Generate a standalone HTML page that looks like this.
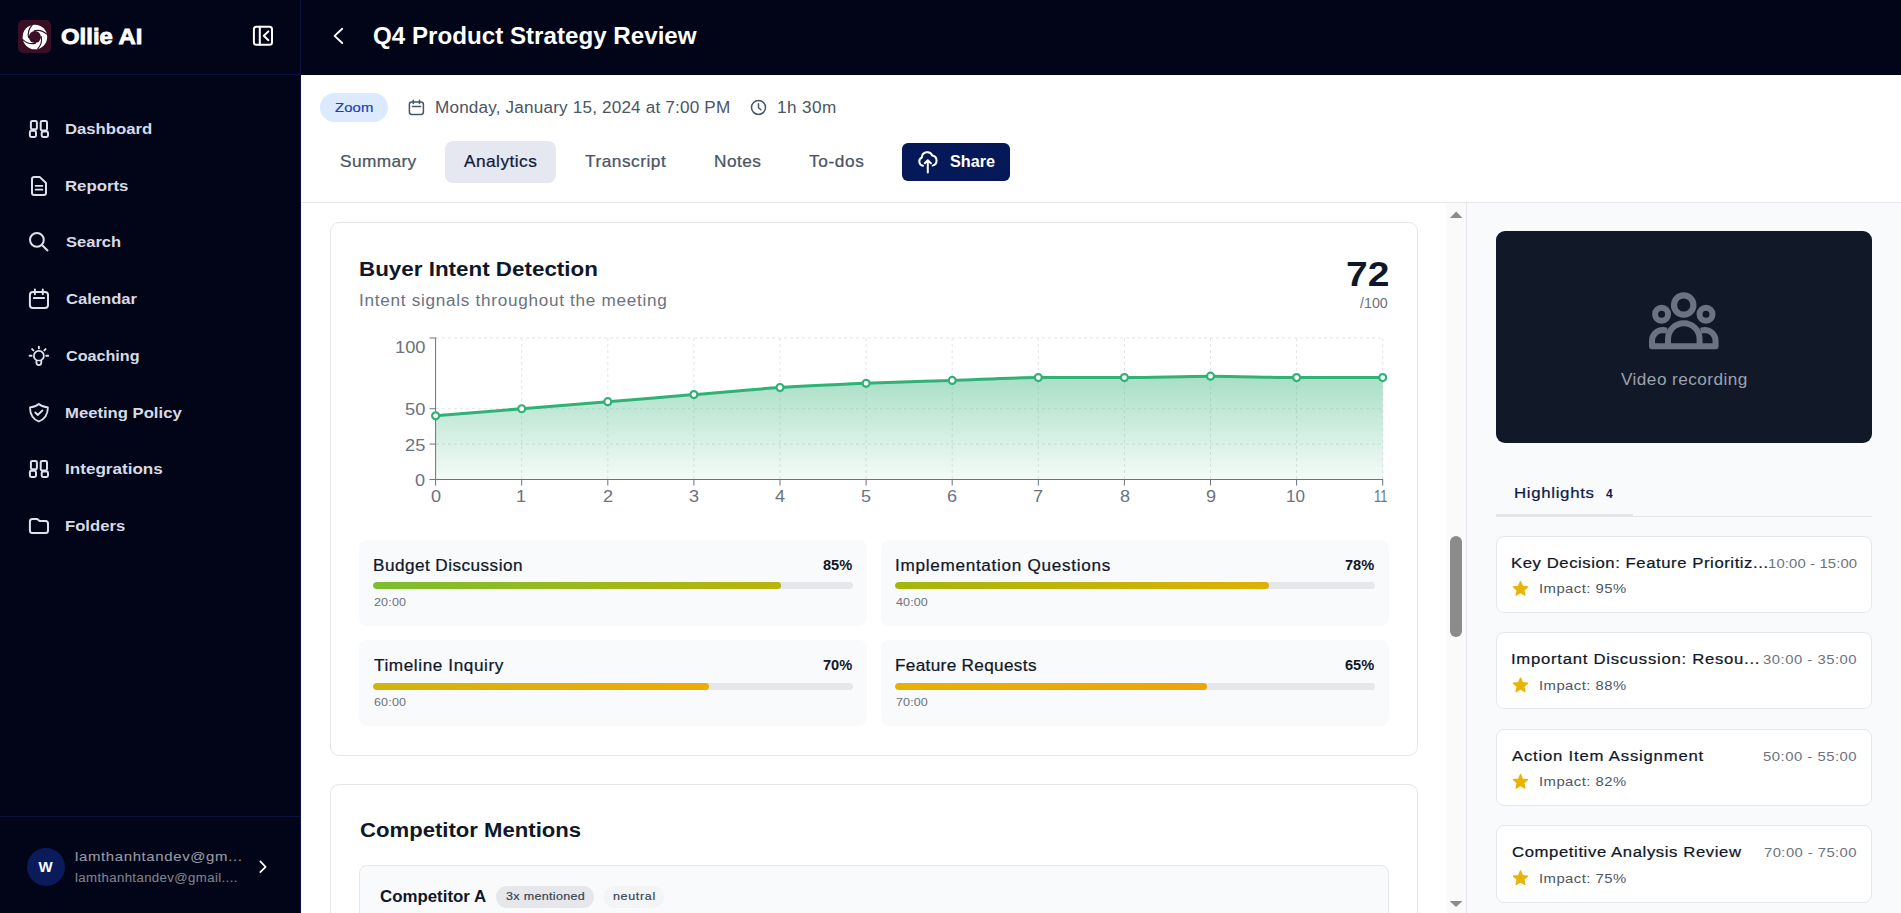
<!DOCTYPE html>
<html lang="en">
<head>
<meta charset="utf-8">
<title>Q4 Product Strategy Review - Ollie AI</title>
<style>
*{box-sizing:border-box;margin:0;padding:0}
html,body{width:1901px;height:913px;overflow:hidden;background:#fff}
body{font-family:"Liberation Sans","DejaVu Sans",sans-serif;color:#0f172a;position:relative}
.t{position:absolute;white-space:nowrap;line-height:1;transform-origin:0 0;font-style:normal;margin:0}
.b{position:absolute}
svg{position:absolute;left:0;top:0;overflow:visible;display:block}
#sidebar{left:0;top:0;width:301px;height:913px;background:#020518;border-right:1px solid #08143f}
#sb-head{left:0;top:0;width:300px;height:75px;border-bottom:1px solid #08143f}
#sb-foot{left:0;top:816px;width:300px;height:97px;border-top:1px solid #08143f}
#logo{left:18px;top:20px;width:33px;height:33px;border-radius:5px;background:#3a0f26}
#avatar{left:27px;top:847.5px;width:38px;height:38px;border-radius:50%;background:#0a1b5c}
#topbar{left:301px;top:0;width:1600px;height:75px;background:#020518}
#tabsline{left:301px;top:202px;width:1600px;height:1px;background:#e5e7eb}
#zoomBadge{left:320px;top:93px;width:68px;height:29px;border-radius:15px;background:#dbeafe}
#tabActive{left:445px;top:141px;width:111px;height:42px;border-radius:8px;background:#e6e8f1}
#shareBtn{left:902px;top:143px;width:108px;height:38px;border-radius:6px;background:#051858}
.card{border:1px solid #e5e7eb;border-radius:9px;background:#fff}
#card1{left:330px;top:222px;width:1088px;height:534px}
#card2{left:330px;top:784px;width:1088px;height:160px}
.ic{background:#f9fafb;border-radius:8px;height:85.6px;width:508px}
.bar{height:7px;border-radius:4px;background:#e5e7eb;width:480px;overflow:hidden}
.bar i{display:block;height:100%;border-radius:4px}
#comp{left:359px;top:865px;width:1030px;height:80px;border:1px solid #e5e7eb;border-radius:8px;background:#f9fafb}
#badge1{left:496px;top:886px;width:98px;height:22px;border-radius:11px;background:#e5e7eb}
#badge2{left:604px;top:886px;width:60px;height:22px;border-radius:11px;background:#f3f4f6}
#sbtrack{left:1446px;top:203px;width:20px;height:710px;background:#fafafa}
#sbthumb{left:1450px;top:536px;width:12px;height:101px;border-radius:6px;background:#8b8b8b}
#rpanel{left:1466px;top:203px;width:435px;height:710px;background:#f9fafb;border-left:1px solid #e5e7eb}
#video{left:1496px;top:231px;width:376px;height:211.5px;border-radius:9px;background:#111827}
#hlTabThick{left:1496px;top:514px;width:137px;height:3px;background:#e3e5e9}
#hlTabLine{left:1496px;top:516px;width:376px;height:1px;background:#e5e7eb}
.hl{left:1496px;width:376px;height:77px;border:1px solid #e5e7eb;border-radius:8px;background:#fff}
</style>
</head>
<body>

<!-- ================= SIDEBAR ================= -->
<aside class="b" id="sidebar">
  <div class="b" id="sb-head"></div>
  <div class="b" id="logo"></div>
  <svg width="301" height="913" viewBox="0 0 301 913" fill="none" stroke="#dfe2ea" stroke-width="2" stroke-linecap="round" stroke-linejoin="round">
    <!-- logo swirl -->
    <g transform="translate(34.9 37)" stroke="none">
      <circle r="12.3" fill="#fff"/>
      <circle r="6" fill="#3a0f26"/>
      <g fill="none" stroke="#3a0f26" stroke-width="1.2" stroke-linecap="butt">
        <path d="M12.2,-2.6 Q6,-8.2 -1,-6.1"/>
        <path d="M12.2,-2.6 Q6,-8.2 -1,-6.1" transform="rotate(90)"/>
        <path d="M12.2,-2.6 Q6,-8.2 -1,-6.1" transform="rotate(180)"/>
        <path d="M12.2,-2.6 Q6,-8.2 -1,-6.1" transform="rotate(270)"/>
      </g>
    </g>
    <!-- collapse -->
    <g stroke="#fff">
      <rect x="253.9" y="26.8" width="18.1" height="18" rx="2.5"/>
      <path d="M259.8,26.8 V44.8"/>
      <path d="M268.4,31.4 L263.8,35.8 L268.4,40.2"/>
    </g>
    <!-- dashboard -->
    <g id="ic-dash">
      <rect x="30.9" y="120.9" width="6" height="8.4" rx="1.4"/>
      <rect x="29.9" y="130.8" width="6.1" height="6.2" rx="1.4"/>
      <rect x="40.7" y="120.9" width="6.3" height="9.6" rx="1.4"/>
      <rect x="41.7" y="131.6" width="6.3" height="5.4" rx="1.4"/>
    </g>
    <!-- reports -->
    <path d="M34.2,176.9 H39.6 L46,183 V192.8 A2.2,2.2 0 0 1 43.8,195 H34.2 A2.2,2.2 0 0 1 32,192.8 V179.1 A2.2,2.2 0 0 1 34.2,176.9 Z"/>
    <path d="M35.6,185.8 H42.4 M35.6,189.7 H42.4" stroke-width="1.8"/>
    <!-- search -->
    <circle cx="36.9" cy="239.8" r="6.9"/>
    <path d="M42.2,245.2 L48,251" stroke-linecap="butt"/>
    <!-- calendar -->
    <g id="ic-cal">
      <rect x="29.9" y="291.9" width="18.1" height="16.1" rx="3"/>
      <path d="M34.9,289.6 V294.2 M42.8,289.6 V294.2 M33.8,297.9 H44.1"/>
    </g>
    <!-- coaching bulb -->
    <g stroke-width="1.8">
      <path d="M36.4,360.2 A5,5 0 1 1 41.3,360.2 V362.6 A2.45,2.45 0 0 1 36.4,362.6 Z"/>
      <path d="M36.6,360.6 H41.1" stroke-width="1.5"/>
      <path d="M38.85,346.6 V348.4 M29.6,355.75 H31.6 M46.2,355.75 H48.2 M32.1,349.1 L33.4,350.4 M45.6,349.1 L44.3,350.4" stroke-width="1.9"/>
    </g>
    <!-- shield -->
    <g stroke-width="1.8">
      <path d="M38.8,404 C36.5,406 33,407.2 30,407.4 C30,414 33,419 38.8,421.5 C44.6,419 47.9,414 47.9,407.4 C44.9,407.2 41.2,406 38.8,404 Z"/>
      <path d="M35.3,412.5 L37.8,415 L42.4,410.5"/>
    </g>
    <!-- integrations -->
    <g transform="translate(0 340)">
      <rect x="30.9" y="120.9" width="6" height="8.4" rx="1.4"/>
      <rect x="29.9" y="130.8" width="6.1" height="6.2" rx="1.4"/>
      <rect x="40.7" y="120.9" width="6.3" height="9.6" rx="1.4"/>
      <rect x="41.7" y="131.6" width="6.3" height="5.4" rx="1.4"/>
    </g>
    <!-- folder -->
    <path d="M32.4,518.9 H37.2 L39.6,520.9 H45.5 A2.5,2.5 0 0 1 48,523.4 V530.5 A2.5,2.5 0 0 1 45.5,533 H32.4 A2.5,2.5 0 0 1 29.9,530.5 V521.4 A2.5,2.5 0 0 1 32.4,518.9 Z"/>
    <!-- user chevron -->
    <path d="M260.3,861.4 L265.6,866.8 L260.3,872.2" stroke="#fff" stroke-width="1.7"/>
  </svg>
  <div class="b" id="sb-foot"></div>
  <div class="b" id="avatar"></div>
<span class="t" style="left:61.40px;top:26.00px;font-size:21.8px;font-weight:700;color:#fff;transform:scaleX(1.0967);-webkit-text-stroke:0.8px #fff;">Ollie AI</span>
<span class="t" style="left:64.92px;top:121.40px;font-size:15.5px;font-weight:700;color:#d8dbe5;transform:scaleX(1.0769);">Dashboard</span>
<span class="t" style="left:64.92px;top:178.40px;font-size:15.5px;font-weight:700;color:#d8dbe5;transform:scaleX(1.0818);">Reports</span>
<span class="t" style="left:66.00px;top:234.40px;font-size:15.5px;font-weight:700;color:#d8dbe5;transform:scaleX(1.0658);">Search</span>
<span class="t" style="left:66.00px;top:291.40px;font-size:15.5px;font-weight:700;color:#d8dbe5;transform:scaleX(1.0709);">Calendar</span>
<span class="t" style="left:66.00px;top:348.40px;font-size:15.5px;font-weight:700;color:#d8dbe5;transform:scaleX(1.0407);">Coaching</span>
<span class="t" style="left:64.92px;top:405.40px;font-size:15.5px;font-weight:700;color:#d8dbe5;transform:scaleX(1.0750);">Meeting Policy</span>
<span class="t" style="left:64.90px;top:461.40px;font-size:15.5px;font-weight:700;color:#d8dbe5;transform:scaleX(1.1024);">Integrations</span>
<span class="t" style="left:64.93px;top:518.40px;font-size:15.5px;font-weight:700;color:#d8dbe5;transform:scaleX(1.0743);">Folders</span>
<span class="t" style="left:38.60px;top:859.00px;font-size:15px;font-weight:700;color:#fff;transform:scaleX(1.0000);">W</span>
<span class="t" style="left:75.00px;top:849.50px;font-size:13.6px;font-weight:400;color:#fff;letter-spacing:0.576px;transform:scaleX(1.1000);opacity:.6;">lamthanhtandev@gm...</span>
<span class="t" style="left:75.00px;top:872.00px;font-size:12px;font-weight:400;color:#fff;letter-spacing:0.349px;transform:scaleX(1.1000);opacity:.5;">lamthanhtandev@gmail....</span>
</aside>

<!-- ================= TOP BAR ================= -->
<header class="b" id="topbar"></header>
<svg width="1901" height="75" viewBox="0 0 1901 75" fill="none" stroke="#fff" stroke-width="1.9" stroke-linecap="round" stroke-linejoin="round">
  <path d="M342.2,28.8 L334.6,35.9 L342.2,43"/>
</svg>
<h1 class="t" style="left:373.00px;top:25.40px;font-size:23.2px;font-weight:700;color:#fff;transform:scaleX(1.0420);">Q4 Product Strategy Review</h1>

<!-- ================= META + TABS ================= -->
<div class="b" id="zoomBadge"></div>
<div class="b" id="tabActive"></div>
<div class="b" id="shareBtn"></div>
<div class="b" id="tabsline"></div>
<svg width="1901" height="203" viewBox="0 0 1901 203" fill="none" stroke="#475569" stroke-width="1.5" stroke-linecap="round" stroke-linejoin="round">
  <!-- small calendar -->
  <rect x="409.4" y="101.9" width="14" height="12.6" rx="2.4"/>
  <path d="M413.3,100.2 V103.4 M419.5,100.2 V103.4 M412.5,106.6 H420.5"/>
  <!-- clock -->
  <circle cx="758.5" cy="107.4" r="7"/>
  <path d="M758.5,103.8 V107.7 L760.9,109.8"/>
  <!-- cloud upload -->
  <g stroke="#fff" stroke-width="2">
    <path d="M923,165.7 A4.3,4.3 0 0 1 921.9,157.5 A5.4,5.4 0 0 1 932.3,155.6 A5.1,5.1 0 0 1 932.6,165.6"/>
    <path d="M927.8,172.4 V160.5 M924.8,163.3 L927.8,160.3 L930.9,163.3"/>
  </g>
</svg>
<span class="t" style="left:335.00px;top:101.00px;font-size:13.5px;font-weight:400;color:#1e40af;letter-spacing:0.094px;transform:scaleX(1.1000);-webkit-text-stroke:0.20px currentColor;">Zoom</span>
<span class="t" style="left:434.90px;top:100.20px;font-size:15.6px;font-weight:400;color:#4b5563;letter-spacing:0.151px;transform:scaleX(1.1000);">Monday, January 15, 2024 at 7:00 PM</span>
<span class="t" style="left:776.50px;top:100.00px;font-size:15.6px;font-weight:400;color:#4b5563;letter-spacing:0.359px;transform:scaleX(1.1000);">1h 30m</span>
<span class="t" style="left:339.60px;top:154.00px;font-size:15.7px;font-weight:400;color:#4b5563;letter-spacing:0.364px;transform:scaleX(1.1000);-webkit-text-stroke:0.24px currentColor;">Summary</span>
<span class="t" style="left:464.00px;top:154.00px;font-size:15.7px;font-weight:400;color:#0f1a3d;letter-spacing:0.429px;transform:scaleX(1.1000);-webkit-text-stroke:0.24px currentColor;">Analytics</span>
<span class="t" style="left:585.00px;top:154.00px;font-size:15.7px;font-weight:400;color:#4b5563;letter-spacing:0.467px;transform:scaleX(1.1000);-webkit-text-stroke:0.24px currentColor;">Transcript</span>
<span class="t" style="left:713.50px;top:154.00px;font-size:15.7px;font-weight:400;color:#4b5563;letter-spacing:0.420px;transform:scaleX(1.1000);-webkit-text-stroke:0.24px currentColor;">Notes</span>
<span class="t" style="left:809.00px;top:154.00px;font-size:15.7px;font-weight:400;color:#4b5563;letter-spacing:0.552px;transform:scaleX(1.1000);-webkit-text-stroke:0.24px currentColor;">To-dos</span>
<span class="t" style="left:950.00px;top:154.00px;font-size:15.6px;font-weight:700;color:#fff;transform:scaleX(1.0397);">Share</span>

<!-- ================= MAIN SCROLL AREA ================= -->
<main>
<section class="b card" id="card1"></section>
<h2 class="t" style="left:358.88px;top:259.00px;font-size:20px;font-weight:700;color:#0f172a;transform:scaleX(1.1196);">Buyer Intent Detection</h2>
<span class="t" style="left:358.90px;top:293.00px;font-size:15.6px;font-weight:400;color:#6b7280;letter-spacing:0.646px;transform:scaleX(1.1000);">Intent signals throughout the meeting</span>
<span class="t" style="left:1345.86px;top:256.50px;font-size:34.3px;font-weight:700;color:#0f172a;transform:scaleX(1.1365);">72</span>
<span class="t" style="left:1360.00px;top:296.40px;font-size:14px;font-weight:400;color:#6b7280;transform:scaleX(1.0196);">/100</span>
<!-- chart -->
<svg width="1901" height="913" viewBox="0 0 1901 913" fill="none">
  <defs>
    <linearGradient id="gfill" x1="0" y1="0" x2="0" y2="1">
      <stop offset="0" stop-color="#30b276" stop-opacity="0.42"/>
      <stop offset="1" stop-color="#30b276" stop-opacity="0.05"/>
    </linearGradient>
  </defs>
  <g stroke="#e2e5ea" stroke-width="1" stroke-dasharray="3 3">
    <path d="M436,338 H1383 M436,408.75 H1383 M436,444.1 H1383"/>
    <path d="M521.7,338 V479 M607.8,338 V479 M693.9,338 V479 M780,338 V479 M866.1,338 V479 M952.2,338 V479 M1038.3,338 V479 M1124.4,338 V479 M1210.5,338 V479 M1296.6,338 V479 M1382.7,338 V479"/>
  </g>
  <path d="M435.6,415.82 C464.3,413.47 493.0,411.11 521.7,408.75 C550.4,406.39 579.1,404.03 607.8,401.68 C636.5,399.32 665.2,396.96 693.9,394.60 C722.6,392.24 751.3,389.41 780.0,387.52 C808.7,385.64 837.4,384.46 866.1,383.28 C894.8,382.10 923.5,381.39 952.2,380.45 C980.9,379.51 1009.6,377.62 1038.3,377.62 C1067.0,377.62 1095.7,377.62 1124.4,377.62 C1153.1,377.62 1181.8,376.20 1210.5,376.20 C1239.2,376.20 1267.9,377.62 1296.6,377.62 C1325.3,377.62 1354.0,377.62 1382.7,377.62 L1382.7,479.5 L435.6,479.5 Z" fill="url(#gfill)"/>
  <g stroke="#6b7280" stroke-width="1">
    <path d="M435.6,337.5 V479.5 M435.6,479.5 H1383"/>
    <path d="M429.5,338 H435.6 M429.5,408.75 H435.6 M429.5,444.1 H435.6 M429.5,479.5 H435.6"/>
    <path d="M435.6,479.5 V485.5 M521.7,479.5 V485.5 M607.8,479.5 V485.5 M693.9,479.5 V485.5 M780,479.5 V485.5 M866.1,479.5 V485.5 M952.2,479.5 V485.5 M1038.3,479.5 V485.5 M1124.4,479.5 V485.5 M1210.5,479.5 V485.5 M1296.6,479.5 V485.5 M1382.7,479.5 V485.5"/>
  </g>
  <path d="M435.6,415.82 C464.3,413.47 493.0,411.11 521.7,408.75 C550.4,406.39 579.1,404.03 607.8,401.68 C636.5,399.32 665.2,396.96 693.9,394.60 C722.6,392.24 751.3,389.41 780.0,387.52 C808.7,385.64 837.4,384.46 866.1,383.28 C894.8,382.10 923.5,381.39 952.2,380.45 C980.9,379.51 1009.6,377.62 1038.3,377.62 C1067.0,377.62 1095.7,377.62 1124.4,377.62 C1153.1,377.62 1181.8,376.20 1210.5,376.20 C1239.2,376.20 1267.9,377.62 1296.6,377.62 C1325.3,377.62 1354.0,377.62 1382.7,377.62" stroke="#30b276" stroke-width="3" stroke-linejoin="round"/>
  <g fill="#fff" stroke="#30b276" stroke-width="2.2"><circle cx="435.6" cy="415.82" r="3.5"/><circle cx="521.7" cy="408.75" r="3.5"/><circle cx="607.8" cy="401.68" r="3.5"/><circle cx="693.9" cy="394.60" r="3.5"/><circle cx="780.0" cy="387.52" r="3.5"/><circle cx="866.1" cy="383.28" r="3.5"/><circle cx="952.2" cy="380.45" r="3.5"/><circle cx="1038.3" cy="377.62" r="3.5"/><circle cx="1124.4" cy="377.62" r="3.5"/><circle cx="1210.5" cy="376.20" r="3.5"/><circle cx="1296.6" cy="377.62" r="3.5"/><circle cx="1382.7" cy="377.62" r="3.5"/></g>
</svg>
<span class="t" style="left:394.50px;top:340.10px;font-size:16.6px;font-weight:400;color:#6b7280;transform:scaleX(1.0999);">100</span>
<span class="t" style="left:404.50px;top:401.90px;font-size:16.6px;font-weight:400;color:#6b7280;letter-spacing:0.135px;transform:scaleX(1.1000);">50</span>
<span class="t" style="left:404.50px;top:437.50px;font-size:16.6px;font-weight:400;color:#6b7280;letter-spacing:0.135px;transform:scaleX(1.1000);">25</span>
<span class="t" style="left:415.35px;top:472.60px;font-size:16.6px;font-weight:400;color:#6b7280;transform:scaleX(1.0900);">0</span>
<span class="t" style="left:430.70px;top:488.90px;font-size:16.6px;font-weight:400;color:#6b7280;transform:scaleX(1.0900);">0</span>
<span class="t" style="left:516.25px;top:488.90px;font-size:16.6px;font-weight:400;color:#6b7280;transform:scaleX(1.0900);">1</span>
<span class="t" style="left:602.89px;top:488.90px;font-size:16.6px;font-weight:400;color:#6b7280;transform:scaleX(1.0900);">2</span>
<span class="t" style="left:689.00px;top:488.90px;font-size:16.6px;font-weight:400;color:#6b7280;transform:scaleX(1.0900);">3</span>
<span class="t" style="left:775.10px;top:488.90px;font-size:16.6px;font-weight:400;color:#6b7280;transform:scaleX(1.0900);">4</span>
<span class="t" style="left:861.20px;top:488.90px;font-size:16.6px;font-weight:400;color:#6b7280;transform:scaleX(1.0900);">5</span>
<span class="t" style="left:947.29px;top:488.90px;font-size:16.6px;font-weight:400;color:#6b7280;transform:scaleX(1.0900);">6</span>
<span class="t" style="left:1033.39px;top:488.90px;font-size:16.6px;font-weight:400;color:#6b7280;transform:scaleX(1.0900);">7</span>
<span class="t" style="left:1119.50px;top:488.90px;font-size:16.6px;font-weight:400;color:#6b7280;transform:scaleX(1.0900);">8</span>
<span class="t" style="left:1205.60px;top:488.90px;font-size:16.6px;font-weight:400;color:#6b7280;transform:scaleX(1.0900);">9</span>
<span class="t" style="left:1286.17px;top:488.90px;font-size:16.6px;font-weight:400;color:#6b7280;transform:scaleX(1.0274);">10</span>
<span class="t" style="left:1373.82px;top:488.90px;font-size:16.6px;font-weight:400;color:#6b7280;transform:scaleX(0.7752);">11</span>

<div class="b ic" style="left:359px;top:540px"></div>
<div class="b ic" style="left:881px;top:540px"></div>
<div class="b ic" style="left:359px;top:640px"></div>
<div class="b ic" style="left:881px;top:640px"></div>
<div class="b bar" style="left:373px;top:582px"><i style="width:85%;background:linear-gradient(90deg,#7cbd30,#b9b40a)"></i></div>
<div class="b bar" style="left:895px;top:582px"><i style="width:78%;background:linear-gradient(90deg,#a3b70d,#e0b005)"></i></div>
<div class="b bar" style="left:373px;top:683px"><i style="width:70%;background:linear-gradient(90deg,#d2b40e,#ecac04)"></i></div>
<div class="b bar" style="left:895px;top:683px"><i style="width:65%;background:linear-gradient(90deg,#e5b207,#eba605)"></i></div>
<span class="t" style="left:372.90px;top:557.70px;font-size:15.6px;font-weight:400;color:#0f172a;letter-spacing:0.419px;transform:scaleX(1.1000);-webkit-text-stroke:0.23px currentColor;">Budget Discussion</span>
<span class="t" style="left:894.90px;top:557.70px;font-size:15.6px;font-weight:400;color:#0f172a;letter-spacing:0.633px;transform:scaleX(1.1000);-webkit-text-stroke:0.23px currentColor;">Implementation Questions</span>
<span class="t" style="left:374.00px;top:657.70px;font-size:15.6px;font-weight:400;color:#0f172a;letter-spacing:0.542px;transform:scaleX(1.1000);-webkit-text-stroke:0.23px currentColor;">Timeline Inquiry</span>
<span class="t" style="left:894.90px;top:657.70px;font-size:15.6px;font-weight:400;color:#0f172a;letter-spacing:0.311px;transform:scaleX(1.1000);-webkit-text-stroke:0.23px currentColor;">Feature Requests</span>
<span class="t" style="left:823.40px;top:558.00px;font-size:14px;font-weight:700;color:#0f172a;transform:scaleX(1.0430);">85%</span>
<span class="t" style="left:1345.40px;top:558.00px;font-size:14px;font-weight:700;color:#0f172a;transform:scaleX(1.0430);">78%</span>
<span class="t" style="left:823.40px;top:658.00px;font-size:14px;font-weight:700;color:#0f172a;transform:scaleX(1.0430);">70%</span>
<span class="t" style="left:1345.40px;top:658.00px;font-size:14px;font-weight:700;color:#0f172a;transform:scaleX(1.0430);">65%</span>
<span class="t" style="left:373.60px;top:597.00px;font-size:11.4px;font-weight:400;color:#6b7280;letter-spacing:0.139px;transform:scaleX(1.1000);">20:00</span>
<span class="t" style="left:896.00px;top:597.00px;font-size:11.4px;font-weight:400;color:#6b7280;letter-spacing:0.094px;transform:scaleX(1.1000);">40:00</span>
<span class="t" style="left:373.60px;top:697.00px;font-size:11.4px;font-weight:400;color:#6b7280;letter-spacing:0.139px;transform:scaleX(1.1000);">60:00</span>
<span class="t" style="left:896.00px;top:697.00px;font-size:11.4px;font-weight:400;color:#6b7280;letter-spacing:0.094px;transform:scaleX(1.1000);">70:00</span>

<section class="b card" id="card2"></section>
<div class="b" id="comp"></div>
<div class="b" id="badge1"></div>
<div class="b" id="badge2"></div>
<h2 class="t" style="left:359.60px;top:820.00px;font-size:20px;font-weight:700;color:#0f172a;transform:scaleX(1.1057);">Competitor Mentions</h2>
<span class="t" style="left:379.60px;top:889.20px;font-size:15.6px;font-weight:700;color:#0f172a;transform:scaleX(1.0803);">Competitor A</span>
<span class="t" style="left:506.00px;top:890.90px;font-size:11.4px;font-weight:400;color:#374151;letter-spacing:0.293px;transform:scaleX(1.1000);-webkit-text-stroke:0.17px currentColor;">3x mentioned</span>
<span class="t" style="left:613.40px;top:890.90px;font-size:11.4px;font-weight:400;color:#374151;letter-spacing:0.587px;transform:scaleX(1.1000);-webkit-text-stroke:0.17px currentColor;">neutral</span>
</main>

<!-- scrollbar -->
<div class="b" id="sbtrack"></div>
<div class="b" id="sbthumb"></div>
<svg width="1901" height="913" viewBox="0 0 1901 913" fill="#8b8b8b">
  <path d="M1450,218 L1456.2,211.6 L1462.4,218 Z"/>
  <path d="M1449.6,901 L1456,907 L1462.4,901 Z"/>
</svg>

<!-- ================= RIGHT PANEL ================= -->
<aside class="b" id="rpanel"></aside>
<div class="b" id="video"></div>
<svg width="1901" height="913" viewBox="0 0 1901 913" fill="none" stroke="#6b7280" stroke-width="6" stroke-linejoin="round">
  <circle cx="1683.7" cy="305" r="9.7" stroke-width="6.2"/>
  <circle cx="1661.6" cy="314.3" r="6.5"/>
  <circle cx="1706" cy="314.3" r="6.5"/>
  <path d="M1667,330.6 L1663,330 A11,11 0 0 0 1652,341 V346.2 H1715.6 V341 A11,11 0 0 0 1704.6,330 L1700.6,330.6"/>
  <path d="M1668,346 V339 A15.8,15.8 0 0 1 1699.6,339 V346"/>
</svg>
<div class="b" id="hlTabThick"></div>
<div class="b" id="hlTabLine"></div>
<div class="b hl" style="top:536px"></div>
<div class="b hl" style="top:632.4px"></div>
<div class="b hl" style="top:728.8px"></div>
<div class="b hl" style="top:825.2px;height:77.6px"></div>
<svg width="1901" height="913" viewBox="0 0 1901 913" fill="#eab308">
  <path stroke="#eab308" stroke-width="1.2" stroke-linejoin="round" d="M1520.50,581.50 L1522.56,586.27 L1527.73,586.75 L1523.83,590.18 L1524.97,595.25 L1520.50,592.60 L1516.03,595.25 L1517.17,590.18 L1513.27,586.75 L1518.44,586.27 Z"/><path stroke="#eab308" stroke-width="1.2" stroke-linejoin="round" d="M1520.50,677.95 L1522.56,682.72 L1527.73,683.20 L1523.83,686.63 L1524.97,691.70 L1520.50,689.05 L1516.03,691.70 L1517.17,686.63 L1513.27,683.20 L1518.44,682.72 Z"/><path stroke="#eab308" stroke-width="1.2" stroke-linejoin="round" d="M1520.50,774.40 L1522.56,779.17 L1527.73,779.65 L1523.83,783.08 L1524.97,788.15 L1520.50,785.50 L1516.03,788.15 L1517.17,783.08 L1513.27,779.65 L1518.44,779.17 Z"/><path stroke="#eab308" stroke-width="1.2" stroke-linejoin="round" d="M1520.50,870.85 L1522.56,875.62 L1527.73,876.10 L1523.83,879.53 L1524.97,884.60 L1520.50,881.95 L1516.03,884.60 L1517.17,879.53 L1513.27,876.10 L1518.44,875.62 Z"/>
</svg>
<span class="t" style="left:1621.40px;top:372.00px;font-size:15.6px;font-weight:400;color:#9ca3af;letter-spacing:0.422px;transform:scaleX(1.1000);">Video recording</span>
<span class="t" style="left:1514.30px;top:485.00px;font-size:15.3px;font-weight:400;color:#0f1a4a;letter-spacing:0.609px;transform:scaleX(1.1000);-webkit-text-stroke:0.23px currentColor;">Highlights</span>
<span class="t" style="left:1605.60px;top:487.00px;font-size:13px;font-weight:700;color:#0f1a4a;transform:scaleX(0.9250);">4</span>
<span class="t" style="left:1510.90px;top:554.70px;font-size:15.2px;font-weight:400;color:#0f172a;letter-spacing:0.508px;transform:scaleX(1.1000);-webkit-text-stroke:0.23px currentColor;">Key Decision: Feature Prioritiz...</span>
<span class="t" style="left:1767.50px;top:556.80px;font-size:13.5px;font-weight:400;color:#6b7280;letter-spacing:0.117px;transform:scaleX(1.1000);">10:00 - 15:00</span>
<span class="t" style="left:1538.90px;top:582.20px;font-size:13.5px;font-weight:400;color:#4b5563;letter-spacing:0.415px;transform:scaleX(1.1000);">Impact: 95%</span>
<span class="t" style="left:1510.90px;top:651.10px;font-size:15.2px;font-weight:400;color:#0f172a;letter-spacing:0.657px;transform:scaleX(1.1000);-webkit-text-stroke:0.23px currentColor;">Important Discussion: Resou...</span>
<span class="t" style="left:1763.00px;top:653.20px;font-size:13.5px;font-weight:400;color:#6b7280;letter-spacing:0.458px;transform:scaleX(1.1000);">30:00 - 35:00</span>
<span class="t" style="left:1538.90px;top:678.65px;font-size:13.5px;font-weight:400;color:#4b5563;letter-spacing:0.415px;transform:scaleX(1.1000);">Impact: 88%</span>
<span class="t" style="left:1512.00px;top:747.50px;font-size:15.2px;font-weight:400;color:#0f172a;letter-spacing:0.721px;transform:scaleX(1.1000);-webkit-text-stroke:0.23px currentColor;">Action Item Assignment</span>
<span class="t" style="left:1763.00px;top:749.60px;font-size:13.5px;font-weight:400;color:#6b7280;letter-spacing:0.458px;transform:scaleX(1.1000);">50:00 - 55:00</span>
<span class="t" style="left:1538.90px;top:775.10px;font-size:13.5px;font-weight:400;color:#4b5563;letter-spacing:0.415px;transform:scaleX(1.1000);">Impact: 82%</span>
<span class="t" style="left:1512.00px;top:843.90px;font-size:15.2px;font-weight:400;color:#0f172a;letter-spacing:0.542px;transform:scaleX(1.1000);-webkit-text-stroke:0.23px currentColor;">Competitive Analysis Review</span>
<span class="t" style="left:1764.00px;top:846.00px;font-size:13.5px;font-weight:400;color:#6b7280;letter-spacing:0.382px;transform:scaleX(1.1000);">70:00 - 75:00</span>
<span class="t" style="left:1538.90px;top:871.55px;font-size:13.5px;font-weight:400;color:#4b5563;letter-spacing:0.415px;transform:scaleX(1.1000);">Impact: 75%</span>
</body>
</html>
